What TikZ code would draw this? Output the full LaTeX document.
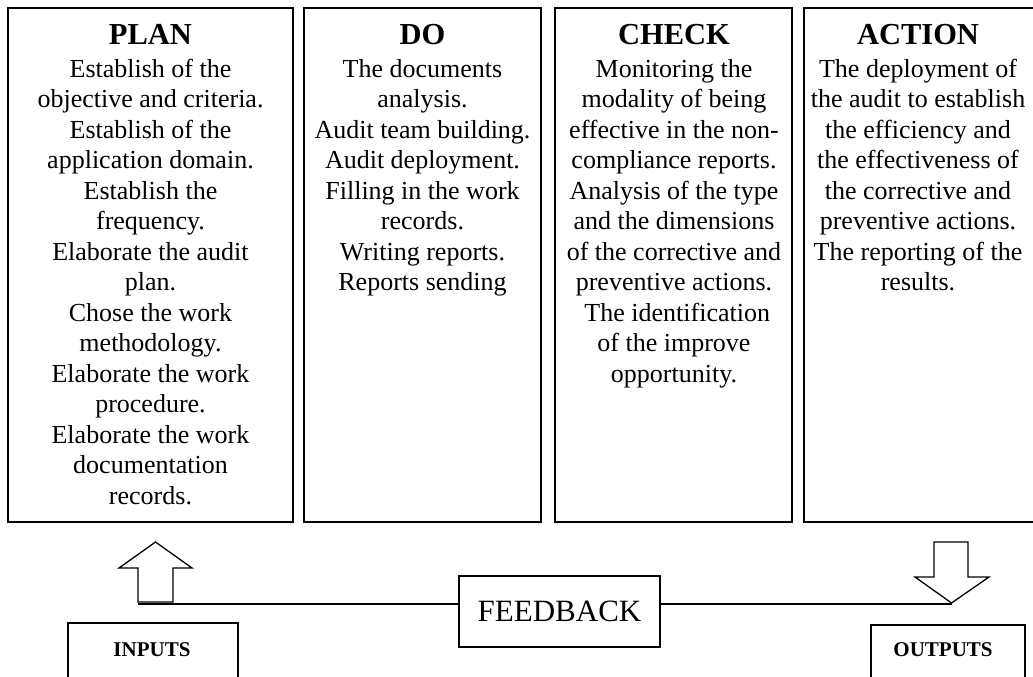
\documentclass[tikz,border=0pt]{standalone}
\usepackage{fontspec}
\setmainfont{Liberation Serif}
\begin{document}
\begin{tikzpicture}[x=1pt,y=-1pt,
  colbox/.style={draw, line width=1.5pt, inner sep=0pt},
  coltext/.style={anchor=base, inner sep=0pt, font=\fontsize{26}{30.5}\selectfont},
  blockarrow/.style={draw, line width=1.3pt, line join=miter},
  link/.style={draw, line width=1.3pt},
  smallbox/.style={draw, line width=1.4pt, inner sep=0pt}]
\useasboundingbox (0,0) rectangle (1033,677);
\clip (0,0) rectangle (1033,677);

% the four PDCA columns
\node[colbox, minimum width=285pt, minimum height=514pt] (plan)   at (150.5,265) {};
\node[colbox, minimum width=237pt, minimum height=514pt] (do)     at (422.5,265) {};
\node[colbox, minimum width=237pt, minimum height=514pt] (check)  at (673.5,265) {};
\node[colbox, minimum width=236pt, minimum height=514pt] (action) at (922,265) {};

\newcommand{\coltitle}[1]{\fontsize{30.5}{35}\selectfont\bfseries #1}

\node[coltext] (plantext) at (150.5,45) {\begin{tabular}[t]{@{}c@{}}
\coltitle{PLAN}\\[2pt]
Establish of the\\
objective and criteria.\\
Establish of the\\
application domain.\\
Establish the\\
frequency.\\
Elaborate the audit\\
plan.\\
Chose the work\\
methodology.\\
Elaborate the work\\
procedure.\\
Elaborate the work\\
documentation\\
records.
\end{tabular}};

\node[coltext] (dotext) at (422.5,45) {\begin{tabular}[t]{@{}c@{}}
\coltitle{DO}\\[2pt]
The documents\\
analysis.\\
Audit team building.\\
Audit deployment.\\
Filling in the work\\
records.\\
Writing reports.\\
Reports sending
\end{tabular}};

\node[coltext] (checktext) at (674,45) {\begin{tabular}[t]{@{}c@{}}
\coltitle{CHECK}\\[2pt]
Monitoring the\\
modality of being\\
effective in the non-\\
compliance reports.\\
Analysis of the type\\
and the dimensions\\
of the corrective and\\
preventive actions.\\
\hspace*{6.5pt}The identification\\
of the improve\\
opportunity.
\end{tabular}};

\node[coltext] (actiontext) at (918,45) {\begin{tabular}[t]{@{}c@{}}
\coltitle{ACTION}\\[2pt]
The deployment of\\
the audit to establish\\
the efficiency and\\
the effectiveness of\\
the corrective and\\
preventive actions.\\
The reporting of the\\
results.
\end{tabular}};

% input arrow pointing up into PLAN
\draw[blockarrow] (138,602) -- (138,568) -- (119,568) -- (155.5,542)
  -- (192,568) -- (173,568) -- (173,602) -- cycle;
\coordinate (inbase) at (138,604);

% output arrow pointing down out of ACTION
\draw[blockarrow] (934,542) -- (968,542) -- (968,577) -- (989,577)
  -- (951.5,603) -- (915,577) -- (934,577) -- cycle;
\coordinate (outtip) at (951.5,604);

% feedback loop
\node[smallbox, minimum width=201pt, minimum height=71pt,
      font=\fontsize{31}{36}\selectfont] (feedback) at (559.5,611.5) {FEEDBACK};
\draw[link] (inbase) -- (inbase -| feedback.west);
\draw[link] (feedback.east |- outtip) -- (outtip);

% inputs and outputs
\node[smallbox, minimum width=170pt, minimum height=90pt] (inputs) at (153,668) {};
\node[anchor=base, inner sep=0pt, font=\fontsize{21}{25}\selectfont\bfseries] (inputslabel) at (152,656) {INPUTS};
\node[smallbox, minimum width=154pt, minimum height=90pt] (outputs) at (948,670) {};
\node[anchor=base, inner sep=0pt, font=\fontsize{21}{25}\selectfont\bfseries] (outputslabel) at (943,656) {OUTPUTS};
\end{tikzpicture}
\end{document}
